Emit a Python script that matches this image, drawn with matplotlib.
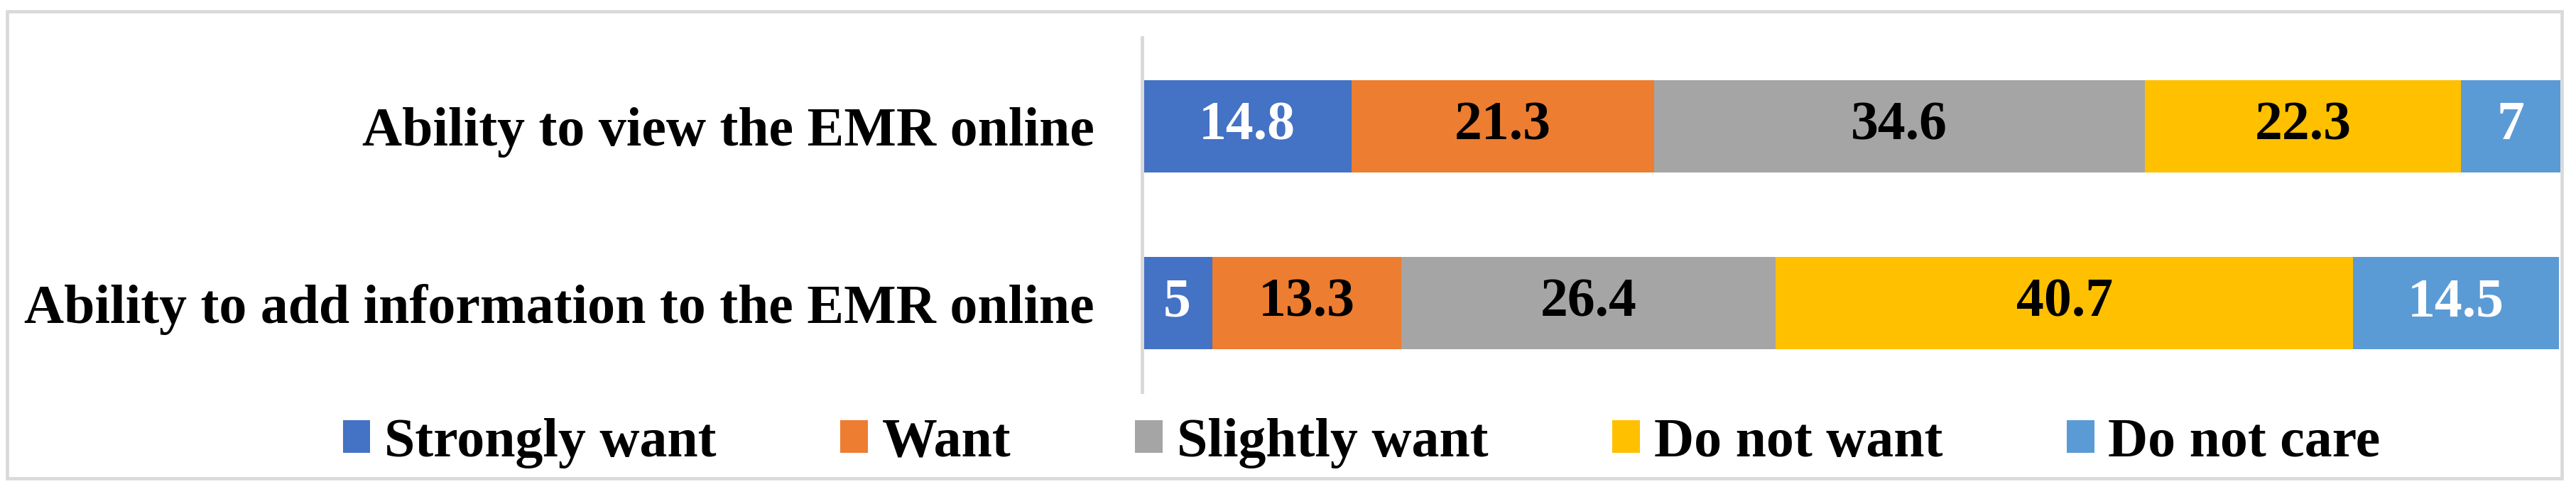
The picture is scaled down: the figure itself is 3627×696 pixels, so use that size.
import matplotlib.pyplot as plt
from matplotlib.patches import Rectangle, Patch

# survey items and answer shares (%)
items = ["Ability to view the EMR online",
         "Ability to add information to the EMR online"]
answers = ["Strongly want", "Want", "Slightly want", "Do not want", "Do not care"]
strongly_want = [14.8, 5]
want = [21.3, 13.3]
slightly_want = [34.6, 26.4]
do_not_want = [22.3, 40.7]
do_not_care = [7, 14.5]

series = [strongly_want, want, slightly_want, do_not_want, do_not_care]
colors = ["#4472C4", "#ED7D31", "#A5A5A5", "#FFC000", "#5B9BD5"]
text_colors = ["white", "black", "black", "black", "white"]

plt.rcParams['font.family'] = ['Liberation Serif', 'DejaVu Serif']
plt.rcParams['font.weight'] = 'bold'
fs = 56

W, H = 3627, 696
fig = plt.figure(figsize=(W / 100, H / 100), dpi=100)
ax = fig.add_axes([1607.5 / W, (H - 552) / H, (3605 - 1607.5) / W, (552 - 53) / H])

ypos = list(range(len(items)))
left = [0] * len(items)
for vals, col, tcol, name in zip(series, colors, text_colors, answers):
    bars = ax.barh(ypos, vals, left=left, height=0.521, color=col, label=name)
    ax.bar_label(bars, labels=['%g' % v for v in vals], label_type='center',
                 color=tcol, fontsize=fs, fontweight='bold')
    left = [a + b for a, b in zip(left, vals)]

ax.set_xlim(0, 100)
ax.set_ylim(1.5, -0.5)
ax.set_yticks(ypos)
ax.set_yticklabels(items, fontsize=fs, fontweight='bold')
ax.tick_params(axis='y', length=0, pad=48)
ax.set_xticks([])
for s in ['top', 'right', 'bottom']:
    ax.spines[s].set_visible(False)
ax.spines['left'].set_color('#D9D9D9')
ax.spines['left'].set_linewidth(3.6)

handles = [Patch(facecolor=c, edgecolor='none') for c in colors]
fig.legend(handles, answers, loc='center', ncol=5, frameon=False,
           bbox_to_anchor=(1917 / W, (H - 624) / H),
           prop={'size': fs, 'weight': 'bold'},
           handlelength=0.5, handleheight=0.55, handletextpad=0.25,
           columnspacing=2.25)

# outer chart border
fig.patches.append(Rectangle((10 / W, (H - 673.5) / H), 3597 / W, 657.5 / H,
                             transform=fig.transFigure, fill=False,
                             edgecolor='#D9D9D9', linewidth=3.3))

fig.savefig('out.png', dpi=100)
